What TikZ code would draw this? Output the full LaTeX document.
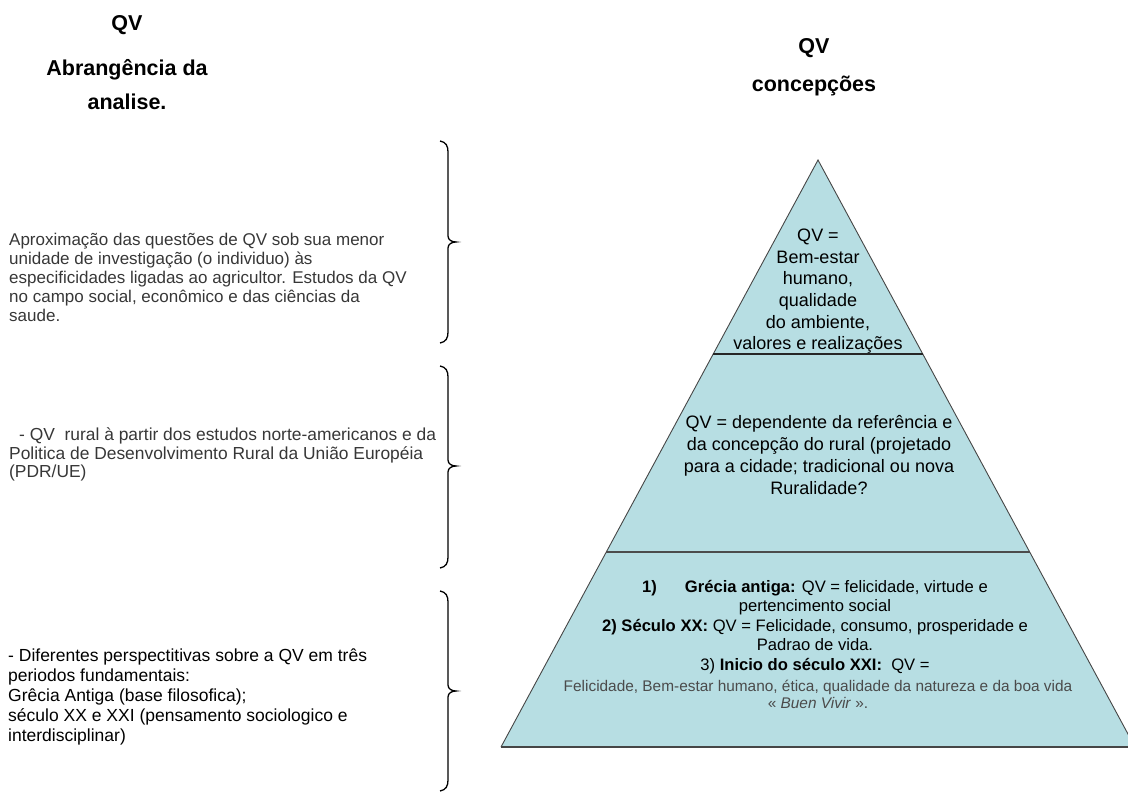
\documentclass[tikz,border=0pt]{standalone}
\usepackage{fontspec}
\setmainfont{Liberation Sans}
\definecolor{pyrfill}{RGB}{183,222,227}
\definecolor{pyredge}{RGB}{70,70,70}
\definecolor{softtxt}{RGB}{55,55,55}
\definecolor{graytxt}{RGB}{75,75,75}
\tikzset{
  heading/.style={font=\fontsize{21.5}{24}\selectfont\bfseries, inner sep=0pt, anchor=base},
  leftpar/.style={font=\fontsize{17}{19}\selectfont, inner sep=0pt, anchor=base west, align=left},
  pyrtext/.style={font=\fontsize{18}{21.7}\selectfont, inner sep=0pt, anchor=base, align=center},
  bracestyle/.style={line width=1.3pt, black},
  divider/.style={line width=1.6pt, black!85},
}
\newcommand\rightbrace[4]{% name, top y, tip y, bottom y
  \draw[bracestyle] (440,#2) .. controls (446,#2+1) and (448,#2+5) .. (448,#2+11)
     -- (448,#3-6) .. controls (448,#3-2) and (452,#3) .. (456,#3)
     .. controls (452,#3) and (448,#3+2) .. (448,#3+6)
     -- (448,#4-11) .. controls (448,#4-5) and (446,#4-1) .. (440,#4);
  \coordinate (#1) at (456,#3);
}
\begin{document}
\begin{tikzpicture}[x=1pt,y=-1pt]
\useasboundingbox (0,0) rectangle (1128,794);
\clip (0,0) rectangle (1128,794);

% headings
\node[heading] (hqv) at (127,31) {QV};
\node[heading] (habr) at (127,76) {Abrangência da};
\node[heading] (hana) at (127,110) {analise.};
\node[heading] (rqv) at (814,54) {QV};
\node[heading] (rcon) at (814,92) {concepções};

% pyramid
\coordinate (apex) at (818,160);
\coordinate (bl) at (501,747);
\coordinate (br) at (1135,747);
\coordinate (d1l) at (713.2,354);
\coordinate (d1r) at (922.8,354);
\coordinate (d2l) at (606.3,552);
\coordinate (d2r) at (1029.7,552);
\fill[pyrfill] (apex) -- (bl) -- (br) -- cycle;
\draw[pyredge, line width=0.9pt] (bl) -- (apex) -- (br);
\draw[pyredge, line width=1.8pt] (bl) -- (br);
\draw[divider] (d1l) -- (d1r);
\draw[divider, black!70] (d2l) -- (d2r);

% (base anchor of a multi-line node = baseline of its last line)
\node[pyrtext] (ptop) at (818,350) {QV =\\Bem-estar\\humano,\\qualidade\\do ambiente,\\valores e realizações};
\node[pyrtext] (pmid) at (819,494) {QV = dependente da referência e\\da concepção do rural (projetado\\para a cidade; tradicional ou nova\\Ruralidade?};
\node[pyrtext, font=\fontsize{16.6}{19.4}\selectfont] (pbot) at (815,670)
  {\textbf{1)}\hspace{28pt}\textbf{Grécia antiga:} QV = felicidade, virtude e\\
   pertencimento social\\
   \textbf{2) Século XX:} QV = Felicidade, consumo, prosperidade e\\
   Padrao de vida.\\
   3) \textbf{Inicio do século XXI:}\ \ QV =};
\node[pyrtext, font=\fontsize{15.4}{16.5}\selectfont, text=graytxt] (pgray) at (818,708)
  {Felicidade, Bem-estar humano, ética, qualidade da natureza e da boa vida\\
   « \textit{Buen Vivir} ».};

% left texts
\node[leftpar, text=softtxt] (par1) at (9,322)
  {Aproximação das questões de QV sob sua menor\\
   unidade de investigação (o individuo) às\\
   especificidades ligadas ao agricultor. Estudos da QV\\
   no campo social, econômico e das ciências da\\
   saude.};
\node[leftpar, text=softtxt, font=\fontsize{17.4}{18}\selectfont] (par2) at (9,477)
  {\hspace{10pt}- QV\ \ rural à partir dos estudos norte-americanos e da\\
   Politica de Desenvolvimento Rural da União Européia\\
   (PDR/UE)};
\node[leftpar, font=\fontsize{17.5}{20}\selectfont] (par3) at (8,741)
  {- Diferentes perspectitivas sobre a QV em três\\
   periodos fundamentais:\\
   Grêcia Antiga (base filosofica);\\
   século XX e XXI (pensamento sociologico e\\
   interdisciplinar)};

% braces
\rightbrace{b1}{141}{242}{343}
\rightbrace{b2}{366}{466}{568}
\rightbrace{b3}{591}{691}{791}
\end{tikzpicture}
\end{document}
